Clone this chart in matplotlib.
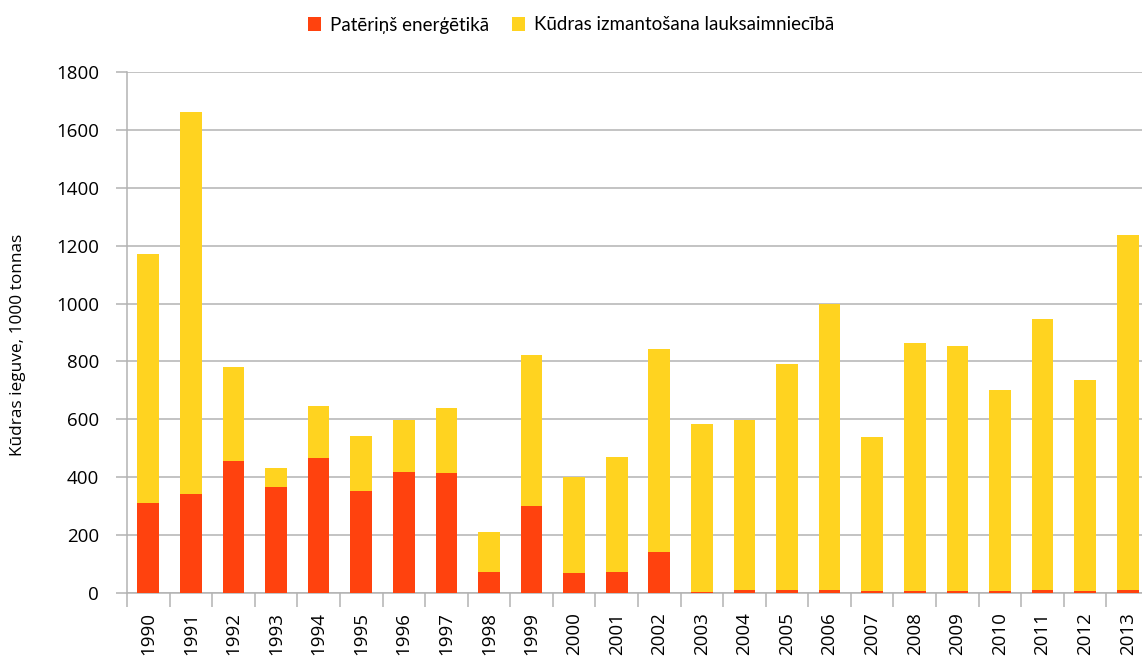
import numpy as np
import matplotlib
matplotlib.use('Agg')
import matplotlib.pyplot as plt
from matplotlib.patches import Patch

years = [str(y) for y in range(1990, 2014)]

# thousand tonnes
energy = [311, 342, 456, 366, 466, 352, 418, 415, 73, 301, 69, 73, 142,
          5, 12, 12, 12, 8, 8, 8, 8, 12, 8, 12]
total = [1172, 1663, 782, 432, 647, 544, 596, 638, 211, 822, 401, 470, 843,
         585, 596, 792, 1000, 540, 865, 854, 702, 948, 737, 1238]
agriculture = [t - e for t, e in zip(total, energy)]

series_labels = ['Patēriņš enerģētikā', 'Kūdras izmantošana lauksaimniecībā']
red = '#ff420e'
yellow = '#ffd320'
grid_col = '#b3b3b3'

fig = plt.figure(figsize=(11.42, 6.58), dpi=100)
ax = fig.add_axes([127 / 1142, 1 - 593 / 658, 1022 / 1142, 521 / 658])

x = np.arange(len(years))
ax.bar(x, energy, width=0.51, color=red, zorder=3)
ax.bar(x, agriculture, width=0.51, bottom=energy, color=yellow, zorder=3)

ax.set_xlim(-0.5, len(years) - 0.5)
ax.set_ylim(0, 1800)
ax.set_yticks(range(0, 1801, 200))
ax.yaxis.grid(True, color=grid_col, linewidth=1.1, zorder=0)

for side in ['top', 'right']:
    ax.spines[side].set_visible(False)
for side in ['left', 'bottom']:
    ax.spines[side].set_color(grid_col)
    ax.spines[side].set_linewidth(1.1)

# ticks sit on category boundaries, labels at the bar centres
ax.set_xticks(x - 0.5, minor=False)
ax.set_xticklabels([])
ax.set_xticks(x, minor=True)
ax.set_xticklabels(years, minor=True, rotation=90, fontsize=13.5,
                   family='Open Sans', color='#000000')
ax.tick_params(axis='x', which='major', length=10, color=grid_col, width=1.1)
ax.tick_params(axis='x', which='minor', length=0, pad=14)
ax.tick_params(axis='y', length=8, color=grid_col, width=1.1, pad=12)
for lbl in ax.get_yticklabels():
    lbl.set_family('Open Sans')
    lbl.set_fontsize(13.5)

ax.set_ylabel('Kūdras ieguve, 1000 tonnas', family='Open Sans', fontsize=12.4)
ax.yaxis.set_label_coords(-101 / 1022, 0.476)

handles = [Patch(facecolor=red), Patch(facecolor=yellow)]
fig.legend(handles, series_labels, loc='center', bbox_to_anchor=(0.5, 1 - 25 / 658),
           ncol=2, frameon=False, prop={'family': 'Lato', 'size': 13.5},
           handlelength=0.7, handleheight=0.7, handletextpad=0.5,
           columnspacing=1.2)

fig.savefig('out.png', dpi=100)
